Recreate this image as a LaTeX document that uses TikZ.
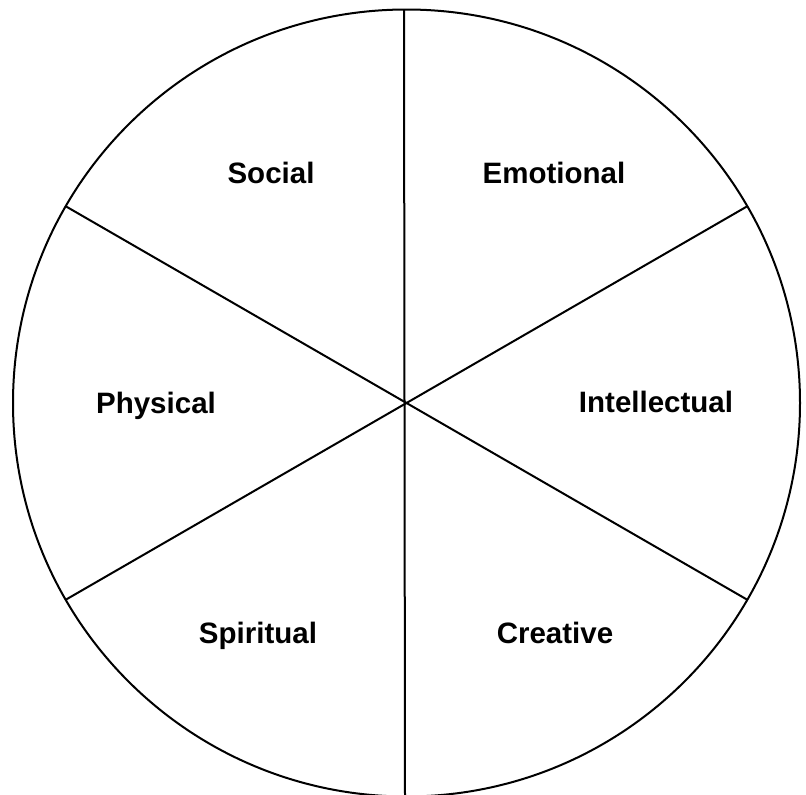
\documentclass[tikz,border=0pt]{standalone}
\usepackage{fontspec}
\setmainfont{Liberation Sans}
\begin{document}
\begin{tikzpicture}[x=1pt,y=-1pt,
  ring/.style={line width=2pt,draw=black},
  spoke/.style={line width=2pt,draw=black},
  lbl/.style={anchor=base,inner sep=0pt,font=\fontsize{29.5}{34}\selectfont\bfseries}]
\useasboundingbox (0,0) rectangle (806,795);
\coordinate (c) at (406.5,403);
\coordinate (top) at (404,10);
\coordinate (bot) at (405,797);
\draw[ring] (c) circle[radius=393.5];
\path (c) ++(-340.8,-196.75) coordinate (ul)
      (c) ++(340.8,-196.75) coordinate (ur)
      (c) ++(-340.8,196.75) coordinate (ll)
      (c) ++(340.8,196.75) coordinate (lr);
\draw[spoke] (top) -- (bot);
\draw[spoke] (ul) -- (c) -- (lr);
\draw[spoke] (ur) -- (c) -- (ll);
\node[lbl] (social) at (271,183) {Social};
\node[lbl] (emotional) at (554,183) {Emotional};
\node[lbl] (physical) at (156,413) {Physical};
\node[lbl] (intellectual) at (656,412) {Intellectual};
\node[lbl] (spiritual) at (258,643) {Spiritual};
\node[lbl] (creative) at (555,643) {Creative};
\end{tikzpicture}
\end{document}
